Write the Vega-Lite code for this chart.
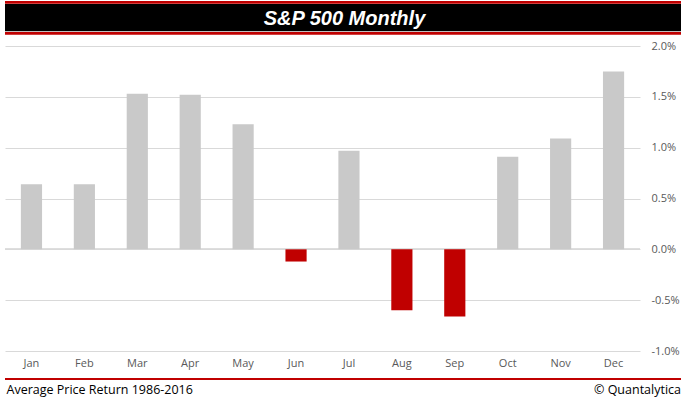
{
  "$schema": "https://vega.github.io/schema/vega-lite/v6.json",
  "background": "#ffffff",
  "padding": {"left": 1, "top": 1, "right": 1, "bottom": 1},
  "spacing": 5,
  "config": {"view": {"stroke": null}},
  "vconcat": [
    {
      "spacing": 0,
      "vconcat": [
        {"width": 679, "height": 2.7, "data": {"values": [{}]}, "mark": {"type": "text", "text": "", "fontSize": 0}, "view": {"fill": "#c00000", "stroke": null}},
        {
          "width": 679, "height": 27.3,
          "data": {"values": [{"title": "S&P 500 Monthly"}]},
          "mark": {"type": "text", "font": "Liberation Sans", "fontSize": 20, "fontWeight": "bold", "fontStyle": "italic", "color": "#ffffff", "baseline": "alphabetic", "dy": 7},
          "encoding": {"text": {"field": "title"}},
          "view": {"fill": "#000000", "stroke": null}
        },
        {"width": 679, "height": 2.7, "data": {"values": [{}]}, "mark": {"type": "text", "text": "", "fontSize": 0}, "view": {"fill": "#c00000", "stroke": null}}
      ]
    },
    {
      "spacing": 10,
      "vconcat": [
        {
          "width": 635, "height": 305,
          "data": {"values": [
            {"month": "Jan", "ret": 0.0064},
            {"month": "Feb", "ret": 0.0064},
            {"month": "Mar", "ret": 0.0153},
            {"month": "Apr", "ret": 0.0152},
            {"month": "May", "ret": 0.0123},
            {"month": "Jun", "ret": -0.0012},
            {"month": "Jul", "ret": 0.0097},
            {"month": "Aug", "ret": -0.0060},
            {"month": "Sep", "ret": -0.0066},
            {"month": "Oct", "ret": 0.0091},
            {"month": "Nov", "ret": 0.0109},
            {"month": "Dec", "ret": 0.0175}
          ]},
          "layer": [
            {
              "mark": {"type": "rule", "color": "#d9d9d9", "strokeWidth": 1},
              "encoding": {
                "y": {"datum": 0, "type": "quantitative", "scale": {"domain": [-0.01, 0.02], "nice": false},
                  "axis": {"orient": "left", "labels": false, "grid": false, "domain": false, "ticks": true, "tickSize": 3, "tickColor": "#ffffff", "values": [0], "title": null}}
              }
            },
            {
              "mark": {"type": "bar"},
              "encoding": {
                "x": {"field": "month", "type": "nominal", "sort": null,
                  "scale": {"paddingInner": 0.6, "paddingOuter": 0.3},
                  "axis": {"title": null, "labelAngle": 0, "labelPadding": 6, "ticks": false, "domain": false, "labelColor": "#595959", "labelFont": "Open Sans", "labelFontSize": 11}},
                "y": {"field": "ret", "type": "quantitative", "scale": {"domain": [-0.01, 0.02], "nice": false},
                  "axis": {"orient": "right", "title": null, "values": [-0.01, -0.005, 0, 0.005, 0.01, 0.015, 0.02],
                    "labelExpr": "replace(format(datum.value, '.1%'), '\u2212', '-')",
                    "labelAlign": "left", "labelPadding": 11, "ticks": false, "tickSize": 0, "domain": false,
                    "grid": true, "gridColor": "#d9d9d9", "gridWidth": 1, "labelFlush": false,
                    "labelColor": "#595959", "labelFont": "Open Sans", "labelFontSize": 11}},
                "color": {"condition": {"test": "datum.ret < 0", "value": "#c00000"}, "value": "#c9c9c9"}
              }
            }
          ],
          "resolve": {"axis": {"y": "independent"}}
        },
        {
          "spacing": 0,
          "vconcat": [
            {"width": 679, "height": 2, "data": {"values": [{}]}, "mark": {"type": "text", "text": "", "fontSize": 0}, "view": {"fill": "#c00000", "stroke": null}},
            {
              "width": 679, "height": 18.3,
              "data": {"values": [{"note": "Average Price Return 1986-2016"}, {"note": "\u00a9 Quantalytica"}]},
              "mark": {"type": "text", "font": "Open Sans", "fontSize": 12.5, "color": "#000000", "baseline": "alphabetic", "dy": 5,
                "align": {"expr": "datum.note === 'Average Price Return 1986-2016' ? 'left' : 'right'"},
                "dx": {"expr": "datum.note === 'Average Price Return 1986-2016' ? 1.5 : -3"}},
              "encoding": {
                "x": {"field": "note", "type": "nominal", "sort": null, "scale": {"type": "point", "padding": 0}, "axis": null},
                "text": {"field": "note"}
              }
            }
          ]
        }
      ]
    }
  ]
}
